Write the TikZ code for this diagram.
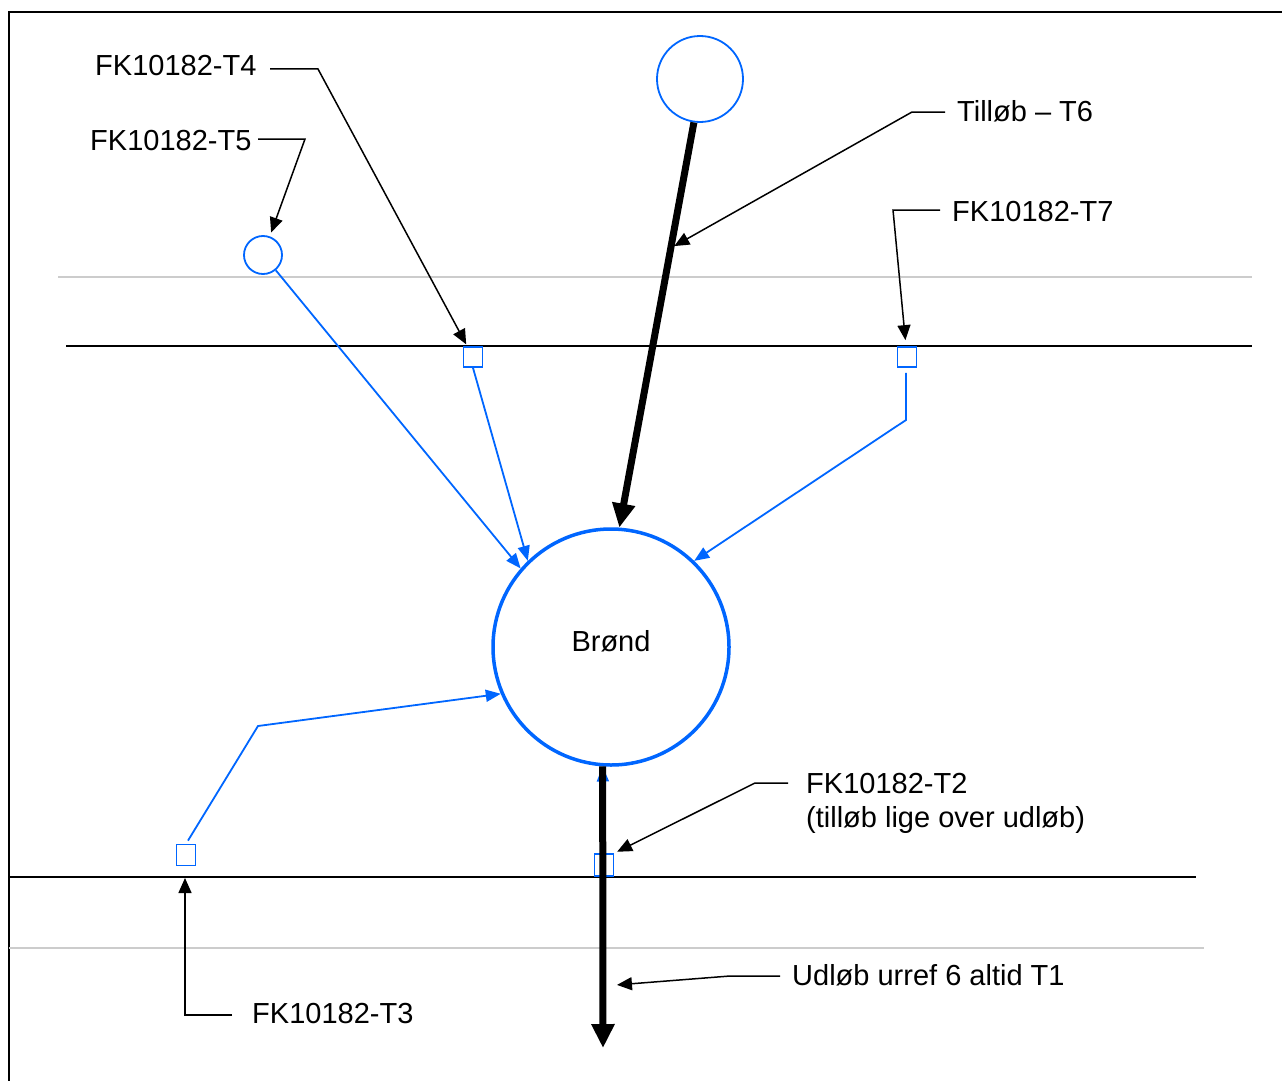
\documentclass[tikz,border=0pt]{standalone}
\usepackage{fontspec}
\setmainfont{Liberation Sans}
\usetikzlibrary{arrows.meta,calc}
\definecolor{bl}{RGB}{0,102,255}
\definecolor{gl}{RGB}{204,204,204}
\tikzset{
 lbl/.style={font=\fontsize{29}{34}\selectfont, anchor=base west, inner sep=0pt},
 leader/.style={draw=black, line width=1.5pt, -{Triangle[length=15pt,width=13pt]}},
 flow/.style={draw=bl, line width=1.8pt, -{Triangle[length=15pt,width=12pt]}},
 mainflow/.style={draw=black, line width=7pt, -{Triangle[length=24pt,width=22pt]}},
 well/.style={circle, draw=bl, line width=3.5pt, minimum size=236pt, inner sep=0pt},
 inlet/.style={circle, draw=bl, line width=1.8pt, inner sep=0pt},
 meas/.style={rectangle, draw=bl, line width=1.8pt, minimum width=19pt, minimum height=20pt, inner sep=0pt},
 frameline/.style={draw=black, line width=2pt},
 level/.style={draw=black, line width=1.6pt},
 greyline/.style={draw=gl, line width=2pt},
}
\begin{document}
\begin{tikzpicture}[x=1pt,y=-1pt]
\useasboundingbox (0,0) rectangle (1282,1081);
% frame
\draw[frameline] (9,1081) -- (9,12) -- (1282,12);
% level lines
\draw[greyline] (58,277) -- (1252,277);
\draw[level] (66,346) -- (1252,346);
\draw[level] (9,877) -- (1196,877);
\draw[greyline] (9,948) -- (1204,948);
% nodes
\node[well] (brond) at (611,647) {};
\node[font=\fontsize{29}{34}\selectfont] (brondtxt) at (611,641) {Brønd};
\node[inlet, minimum size=86pt] (t6c) at (700,79) {};
\node[inlet, minimum size=38pt] (t5c) at (263,255) {};
\node[meas] (t4s) at (473,357) {};
\node[meas] (t7s) at (907,357) {};
\node[meas, minimum height=21pt] (t3s) at (186,855) {};
\node[meas, minimum height=22pt] (t2s) at (604,865) {};
\coordinate (out) at (603,1048);
\coordinate (t3tip) at (185,878);
\coordinate (t1pt) at (603,986);
% blue flows
\draw[flow] (t5c.-50) -- (brond.139);
\draw[flow] (t4s.south) -- (brond.134);
\draw[flow] ($(t7s.south)+(-1,5)$) -- (906,420) -- (brond.46);
\draw[flow] ($(t3s.north)+(2,-3)$) -- (258,726) -- (brond.203);
\draw[flow] (t2s.north) -- (brond.266);
% main flows
\draw[mainflow] (t6c.-98) -- (brond.86) coordinate[pos=0.31] (t6mid);
\draw[mainflow] (brond.266) -- (out);
% labels
\node[lbl] (t4lbl) at (95,76) {FK10182-T4};
\node[lbl] (t5lbl) at (90,150) {FK10182-T5};
\node[lbl] (t6lbl) at (957,121) {Tilløb – T6};
\node[lbl] (t7lbl) at (952,221) {FK10182-T7};
\node[lbl] (t2lbl) at (806,793) {FK10182-T2};
\node[lbl] (t2lblb) at (806,827) {(tilløb lige over udløb)};
\node[lbl] (t1lbl) at (792,985) {Udløb urref 6 altid T1};
\node[lbl] (t3lbl) at (252,1023) {FK10182-T3};
% leaders
\draw[leader, shorten >=2pt] (270,69) -- (318,69) -- (t4s);
\draw[leader, shorten >=4pt] (258,139) -- (305,139) -- (t5c);
\draw[leader, shorten >=4pt] (945,112) -- (912,112) -- (t6mid);
\draw[leader, shorten >=6pt] (940,210) -- (893,210) -- (t7s);
\draw[leader, shorten >=3pt] (788,783) -- (755,783) -- (t2s.north east);
\draw[leader, shorten >=14pt] (780,976) -- (730,976) -- (t1pt);
\draw[leader] (232,1015) -- (185,1015) -- (t3tip);
\end{tikzpicture}
\end{document}
